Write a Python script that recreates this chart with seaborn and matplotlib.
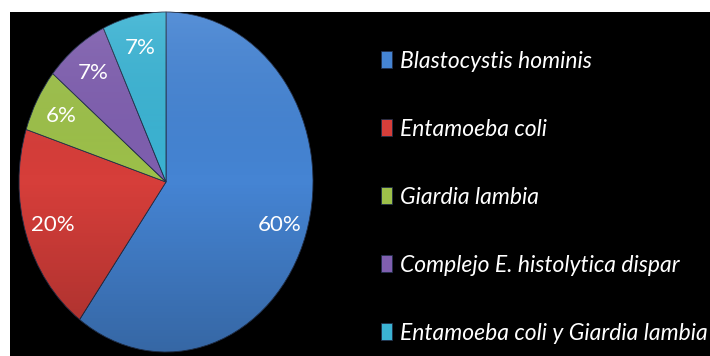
import numpy as np
import matplotlib
matplotlib.use("Agg")
import matplotlib.pyplot as plt
import seaborn as sns
from matplotlib.patches import Rectangle
from matplotlib.colors import LinearSegmentedColormap

# Parasites found and their share of positive samples
species = [
    "Blastocystis hominis",
    "Entamoeba coli",
    "Giardia lambia",
    "Complejo E. histolytica dispar",
    "Entamoeba coli y Giardia lambia",
]
percent = [60, 20, 6, 7, 7]
palette = ["#4584D3", "#D63E3A", "#9DC04A", "#7F5FAF", "#3BB3D3"]

sns.set_theme(style="white")
plt.rcParams["font.family"] = ["Lato", "DejaVu Sans"]

W, H = 710, 356
fig = plt.figure(figsize=(W / 100, H / 100), dpi=100, facecolor="white")
fig.patches.append(Rectangle((10 / W, 0), 1, 344 / H, transform=fig.transFigure,
                             facecolor="black", edgecolor="none", zorder=-10))

ax = fig.add_axes([19 / W, 4 / H, 294 / W, 340 / H])
ax.patch.set_alpha(0)
wedges, texts, autotexts = ax.pie(
    percent, colors=palette, startangle=90, counterclock=False,
    autopct=lambda p: f"{p:.0f}%", pctdistance=0.81,
    wedgeprops=dict(linewidth=0.6, edgecolor="#22304a"),
    textprops=dict(color="white", fontsize=16),
)

# soft top-to-bottom shading on every slice
shade_cmap = LinearSegmentedColormap.from_list(
    "shade", [(1, 1, 1, 0.10), (0, 0, 0, 0.0), (0, 0, 0, 0.22)])
shade = np.linspace(0, 1, 256).reshape(-1, 1)
for w in wedges:
    im = ax.imshow(shade, extent=(-1, 1, -1, 1), cmap=shade_cmap, origin="upper",
                   aspect="auto", zorder=w.get_zorder() + 0.1, interpolation="bilinear")
    im.set_clip_path(w)
for t in autotexts:
    t.set_zorder(5)

ax.set_aspect("auto")
ax.set_xlim(-1, 1)
ax.set_ylim(-1, 1)
ax.axis("off")

fig.legend(wedges, species, loc="upper left", bbox_to_anchor=(360 / W, 1 - 30 / H),
           frameon=False, labelcolor="white",
           prop=dict(style="italic", size=16.5),
           handlelength=0.5, handleheight=0.8, handletextpad=0.35, labelspacing=2.05)

fig.savefig("out.png", dpi=100, facecolor="white")
